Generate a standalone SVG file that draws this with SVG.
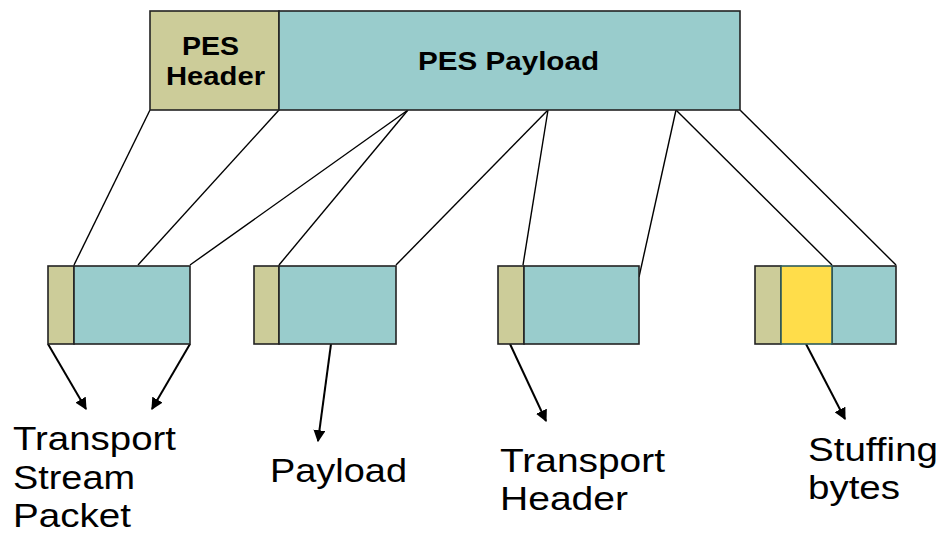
<svg xmlns="http://www.w3.org/2000/svg" width="942" height="533" viewBox="0 0 942 533">
<style>
.hd{fill:#CCCC99;stroke:#222;stroke-width:1.6}
.pl{fill:#99CCCC;stroke:#222;stroke-width:1.6}
.st{fill:#FFDD4A;stroke:#2E5C5C;stroke-width:1.6}
.ln{stroke:#000;stroke-width:1.4;fill:none}
.ar{stroke:#000;stroke-width:2;fill:none;marker-end:url(#ah)}
.bt{font-family:"Liberation Sans",Arial,sans-serif;font-weight:bold;font-size:25px;fill:#000}
.lb{font-family:"Liberation Sans",Arial,sans-serif;font-size:33px;fill:#000}
</style>
<defs>
<marker id="ah" viewBox="0 0 10 10" refX="9" refY="5" markerWidth="6" markerHeight="6" orient="auto" markerUnits="strokeWidth">
<path d="M0,0 L10,5 L0,10 z" fill="#000"/>
</marker>
</defs>
<rect width="942" height="533" fill="#fff"/>
<g id="connectors">
<line class="ln" x1="150" y1="110" x2="74" y2="265"/>
<line class="ln" x1="279" y1="110" x2="138" y2="265"/>
<line class="ln" x1="408" y1="110" x2="190" y2="265"/>
<line class="ln" x1="408" y1="110" x2="279" y2="265"/>
<line class="ln" x1="548" y1="110" x2="396" y2="265"/>
<line class="ln" x1="548" y1="110" x2="523" y2="265"/>
<line class="ln" x1="676" y1="110" x2="639" y2="277"/>
<line class="ln" x1="676" y1="110" x2="832" y2="265"/>
<line class="ln" x1="740" y1="110" x2="896" y2="265"/>
<line class="ar" x1="48" y1="344" x2="86" y2="409"/>
<line class="ar" x1="190" y1="344" x2="152" y2="409"/>
<line class="ar" x1="331" y1="344" x2="318" y2="441"/>
<line class="ar" x1="510" y1="344" x2="546" y2="421"/>
<line class="ar" x1="806" y1="344" x2="845" y2="419"/>
</g>
<g id="pes">
<rect class="hd" x="150" y="11" width="129" height="99"/>
<rect class="pl" x="279" y="11" width="461" height="99"/>
<text class="bt" x="182" y="55" textLength="57" lengthAdjust="spacingAndGlyphs">PES</text>
<text class="bt" x="166" y="85" textLength="99" lengthAdjust="spacingAndGlyphs">Header</text>
<text class="bt" x="418" y="70" textLength="181" lengthAdjust="spacingAndGlyphs">PES Payload</text>
</g>
<g id="packet1">
<rect class="hd" x="48" y="266" width="26" height="78"/>
<rect class="pl" x="74" y="266" width="116" height="78"/>
</g>
<g id="packet2">
<rect class="hd" x="254" y="266" width="25" height="78"/>
<rect class="pl" x="279" y="266" width="117" height="78"/>
</g>
<g id="packet3">
<rect class="hd" x="498" y="266" width="26" height="78"/>
<rect class="pl" x="524" y="266" width="115" height="78"/>
</g>
<g id="packet4">
<rect class="hd" x="755" y="266" width="26" height="78"/>
<rect class="pl" x="832" y="266" width="64" height="78"/>
<rect class="st" x="781" y="266" width="51" height="78"/>
</g>
<g id="label-tsp">
<text class="lb" x="13" y="450" textLength="163" lengthAdjust="spacingAndGlyphs">Transport</text>
<text class="lb" x="13" y="489" textLength="122" lengthAdjust="spacingAndGlyphs">Stream</text>
<text class="lb" x="13" y="527" textLength="118" lengthAdjust="spacingAndGlyphs">Packet</text>
</g>
<g id="label-payload">
<text class="lb" x="270" y="482" textLength="137" lengthAdjust="spacingAndGlyphs">Payload</text>
</g>
<g id="label-th">
<text class="lb" x="500" y="472" textLength="165" lengthAdjust="spacingAndGlyphs">Transport</text>
<text class="lb" x="500" y="510" textLength="128" lengthAdjust="spacingAndGlyphs">Header</text>
</g>
<g id="label-stuff">
<text class="lb" x="808" y="461" textLength="130" lengthAdjust="spacingAndGlyphs">Stuffing</text>
<text class="lb" x="808" y="499" textLength="92" lengthAdjust="spacingAndGlyphs">bytes</text>
</g>
</svg>
